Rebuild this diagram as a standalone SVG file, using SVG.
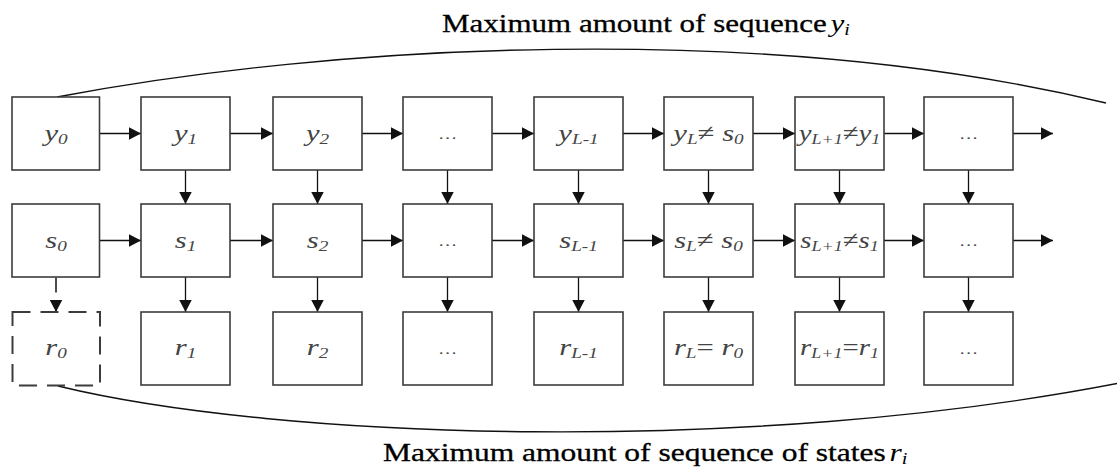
<svg xmlns="http://www.w3.org/2000/svg" width="1117" height="467" viewBox="0 0 1117 467">
<style>
.box{fill:#fff;stroke:#3c3c3c;stroke-width:1.6}
.dbox{fill:#fff;stroke:#3c3c3c;stroke-width:2;stroke-dasharray:18 10}
.ln{fill:none;stroke:#111;stroke-width:1.3;marker-end:url(#ah)}
.dln{fill:none;stroke:#111;stroke-width:1.5;stroke-dasharray:15 9;marker-end:url(#ah)}
.brace{fill:none;stroke:#111;stroke-width:1.4}
.lb{font-family:"Liberation Serif","Times New Roman",serif;font-style:italic;font-size:24px;fill:#444;text-anchor:middle}
.sub{font-size:15px}
.op{font-style:normal}
.dots{font-family:"Liberation Serif","Times New Roman",serif;font-size:15px;fill:#444;text-anchor:middle}
.title{font-family:"Liberation Serif","Times New Roman",serif;font-size:25px;fill:#000;stroke:#000;stroke-width:0.3}
.it{font-style:italic;stroke:none}
</style>
<defs>
<marker id="ah" markerWidth="13" markerHeight="13" refX="12.5" refY="6.5" orient="auto" markerUnits="userSpaceOnUse">
<path d="M0,0 L12.5,6.5 L0,13 z" fill="#111"/>
</marker>
</defs>

<g id="titles">
<text class="title" transform="translate(442 32) scale(1.24 1)">Maximum amount of sequence<tspan class="it" dx="3">y</tspan><tspan class="it" font-size="16" dy="3">i</tspan></text>
<path class="brace" d="M57,97 C330,45 760,20 1106,103"/>
<path class="brace" d="M58,386 C280,440 750,455 1120,383"/>
<text class="title" transform="translate(383 461) scale(1.26 1)">Maximum amount of sequence of states<tspan class="it" dx="3">r</tspan><tspan class="it" font-size="16" dy="3">i</tspan></text>
</g>

<g id="connectors">
<path class="ln" d="M99.5,133.5 H141"/>
<path class="ln" d="M230,133.5 H273"/>
<path class="ln" d="M362,133.5 H403"/>
<path class="ln" d="M492,133.5 H534"/>
<path class="ln" d="M623,133.5 H664"/>
<path class="ln" d="M753,133.5 H795"/>
<path class="ln" d="M884,133.5 H924"/>
<path class="ln" d="M1013,133.5 H1053"/>
<path class="ln" d="M99.5,240.5 H141"/>
<path class="ln" d="M230,240.5 H273"/>
<path class="ln" d="M362,240.5 H403"/>
<path class="ln" d="M492,240.5 H534"/>
<path class="ln" d="M623,240.5 H664"/>
<path class="ln" d="M753,240.5 H795"/>
<path class="ln" d="M884,240.5 H924"/>
<path class="ln" d="M1013,240.5 H1053"/>
<path class="ln" d="M185.5,170 V204"/>
<path class="ln" d="M317.5,170 V204"/>
<path class="ln" d="M447.5,170 V204"/>
<path class="ln" d="M578.5,170 V204"/>
<path class="ln" d="M708.5,170 V204"/>
<path class="ln" d="M839.5,170 V204"/>
<path class="ln" d="M968.5,170 V204"/>
<path class="dln" d="M56,277.5 V312"/>
<path class="ln" d="M185.5,277 V312"/>
<path class="ln" d="M317.5,277 V312"/>
<path class="ln" d="M447.5,277 V312"/>
<path class="ln" d="M578.5,277 V312"/>
<path class="ln" d="M708.5,277 V312"/>
<path class="ln" d="M839.5,277 V312"/>
<path class="ln" d="M968.5,277 V312"/>
</g>

<g id="y0"><rect class="box" x="12" y="97" width="87.5" height="73"/><text class="lb" transform="translate(56 141) scale(1.28 1)">y<tspan class="sub" dy="3">0</tspan></text></g>
<g id="y1"><rect class="box" x="141" y="97" width="89" height="73"/><text class="lb" transform="translate(185.5 141) scale(1.28 1)">y<tspan class="sub" dy="3">1</tspan></text></g>
<g id="y2"><rect class="box" x="273" y="97" width="89" height="73"/><text class="lb" transform="translate(317.5 141) scale(1.28 1)">y<tspan class="sub" dy="3">2</tspan></text></g>
<g id="y3"><rect class="box" x="403" y="97" width="89" height="73"/><text class="dots" transform="translate(447.5 139) scale(1.28 1)">…</text></g>
<g id="yL-1"><rect class="box" x="534" y="97" width="89" height="73"/><text class="lb" transform="translate(578.5 141) scale(1.28 1)">y<tspan class="sub" dy="3">L-1</tspan></text></g>
<g id="yL"><rect class="box" x="664" y="97" width="89" height="73"/><text class="lb" transform="translate(708.5 141) scale(1.28 1)">y<tspan class="sub" dy="3">L</tspan><tspan class="op" dy="-3">≠ </tspan><tspan>s</tspan><tspan class="sub" dy="3">0</tspan></text></g>
<g id="yL+1"><rect class="box" x="795" y="97" width="89" height="73"/><text class="lb" transform="translate(839.5 141) scale(1.2 1)">y<tspan class="sub" dy="3">L+1</tspan><tspan class="op" dy="-3">≠</tspan><tspan>y</tspan><tspan class="sub" dy="3">1</tspan></text></g>
<g id="y8"><rect class="box" x="924" y="97" width="89" height="73"/><text class="dots" transform="translate(968.5 139) scale(1.28 1)">…</text></g>

<g id="s0"><rect class="box" x="12" y="204" width="87.5" height="73"/><text class="lb" transform="translate(56 248) scale(1.28 1)">s<tspan class="sub" dy="3">0</tspan></text></g>
<g id="s1"><rect class="box" x="141" y="204" width="89" height="73"/><text class="lb" transform="translate(185.5 248) scale(1.28 1)">s<tspan class="sub" dy="3">1</tspan></text></g>
<g id="s2"><rect class="box" x="273" y="204" width="89" height="73"/><text class="lb" transform="translate(317.5 248) scale(1.28 1)">s<tspan class="sub" dy="3">2</tspan></text></g>
<g id="s3"><rect class="box" x="403" y="204" width="89" height="73"/><text class="dots" transform="translate(447.5 246) scale(1.28 1)">…</text></g>
<g id="sL-1"><rect class="box" x="534" y="204" width="89" height="73"/><text class="lb" transform="translate(578.5 248) scale(1.28 1)">s<tspan class="sub" dy="3">L-1</tspan></text></g>
<g id="sL"><rect class="box" x="664" y="204" width="89" height="73"/><text class="lb" transform="translate(708.5 248) scale(1.28 1)">s<tspan class="sub" dy="3">L</tspan><tspan class="op" dy="-3">≠ </tspan><tspan>s</tspan><tspan class="sub" dy="3">0</tspan></text></g>
<g id="sL+1"><rect class="box" x="795" y="204" width="89" height="73"/><text class="lb" transform="translate(839.5 248) scale(1.2 1)">s<tspan class="sub" dy="3">L+1</tspan><tspan class="op" dy="-3">≠</tspan><tspan>s</tspan><tspan class="sub" dy="3">1</tspan></text></g>
<g id="s8"><rect class="box" x="924" y="204" width="89" height="73"/><text class="dots" transform="translate(968.5 246) scale(1.28 1)">…</text></g>

<g id="r0"><rect class="dbox" x="12.5" y="312" width="87.5" height="73.5"/><text class="lb" transform="translate(56 355) scale(1.28 1)">r<tspan class="sub" dy="3">0</tspan></text></g>
<g id="r1"><rect class="box" x="141" y="312" width="89" height="73"/><text class="lb" transform="translate(185.5 355) scale(1.28 1)">r<tspan class="sub" dy="3">1</tspan></text></g>
<g id="r2"><rect class="box" x="273" y="312" width="89" height="73"/><text class="lb" transform="translate(317.5 355) scale(1.28 1)">r<tspan class="sub" dy="3">2</tspan></text></g>
<g id="r3"><rect class="box" x="403" y="312" width="89" height="73"/><text class="dots" transform="translate(447.5 354) scale(1.28 1)">…</text></g>
<g id="rL-1"><rect class="box" x="534" y="312" width="89" height="73"/><text class="lb" transform="translate(578.5 355) scale(1.28 1)">r<tspan class="sub" dy="3">L-1</tspan></text></g>
<g id="rL"><rect class="box" x="664" y="312" width="89" height="73"/><text class="lb" transform="translate(708.5 355) scale(1.28 1)">r<tspan class="sub" dy="3">L</tspan><tspan class="op" dy="-3">= </tspan><tspan>r</tspan><tspan class="sub" dy="3">0</tspan></text></g>
<g id="rL+1"><rect class="box" x="795" y="312" width="89" height="73"/><text class="lb" transform="translate(839.5 355) scale(1.2 1)">r<tspan class="sub" dy="3">L+1</tspan><tspan class="op" dy="-3">=</tspan><tspan>r</tspan><tspan class="sub" dy="3">1</tspan></text></g>
<g id="r8"><rect class="box" x="924" y="312" width="89" height="73"/><text class="dots" transform="translate(968.5 354) scale(1.28 1)">…</text></g>
</svg>
